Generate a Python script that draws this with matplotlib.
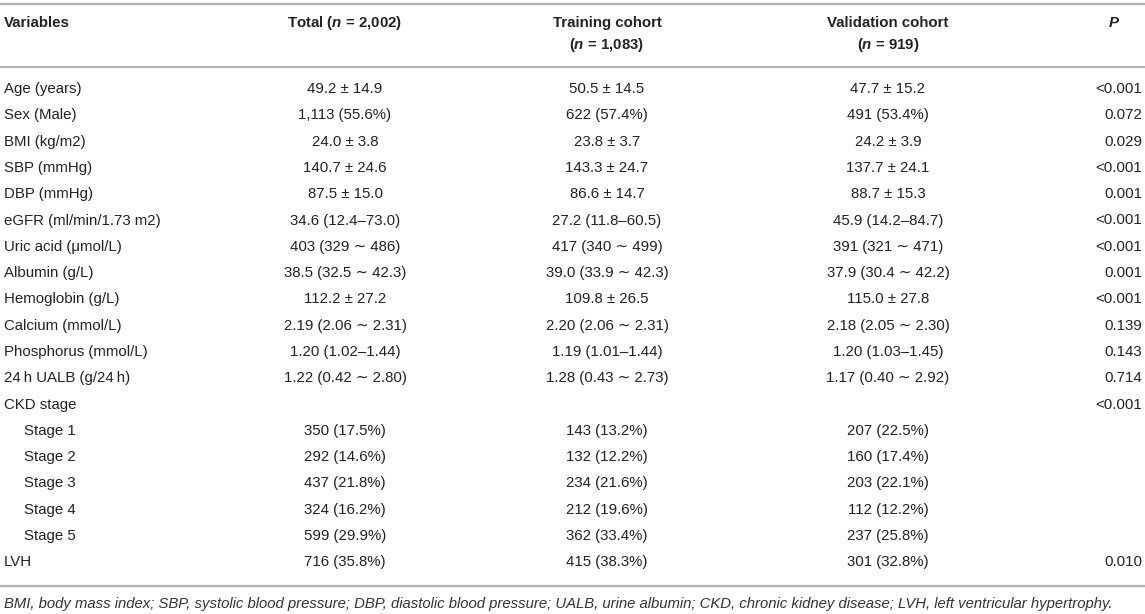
import matplotlib.pyplot as plt

plt.rcParams["font.family"] = ["Liberation Sans", "DejaVu Sans"]
plt.rcParams["mathtext.fontset"] = "custom"
plt.rcParams["mathtext.it"] = "Liberation Sans:italic:bold"
plt.rcParams["mathtext.rm"] = "Liberation Sans:bold"
plt.rcParams["mathtext.bf"] = "Liberation Sans:bold"

# table content
variables = [
    "Age (years)", "Sex (Male)", "BMI (kg/m2)", "SBP (mmHg)", "DBP (mmHg)",
    "eGFR (ml/min/1.73 m2)", "Uric acid (\u03bcmol/L)", "Albumin (g/L)",
    "Hemoglobin (g/L)", "Calcium (mmol/L)", "Phosphorus (mmol/L)",
    "24\u2009h UALB (g/24\u2009h)", "CKD stage", "Stage 1", "Stage 2", "Stage 3",
    "Stage 4", "Stage 5", "LVH",
]
indented = ["Stage 1", "Stage 2", "Stage 3", "Stage 4", "Stage 5"]
total = [
    "49.2 \u00b1 14.9", "1,113 (55.6%)", "24.0 \u00b1 3.8", "140.7 \u00b1 24.6",
    "87.5 \u00b1 15.0", "34.6 (12.4\u201373.0)", "403 (329 \u223c 486)",
    "38.5 (32.5 \u223c 42.3)", "112.2 \u00b1 27.2", "2.19 (2.06 \u223c 2.31)",
    "1.20 (1.02\u20131.44)", "1.22 (0.42 \u223c 2.80)", "",
    "350 (17.5%)", "292 (14.6%)", "437 (21.8%)", "324 (16.2%)", "599 (29.9%)",
    "716 (35.8%)",
]
training = [
    "50.5 \u00b1 14.5", "622 (57.4%)", "23.8 \u00b1 3.7", "143.3 \u00b1 24.7",
    "86.6 \u00b1 14.7", "27.2 (11.8\u201360.5)", "417 (340 \u223c 499)",
    "39.0 (33.9 \u223c 42.3)", "109.8 \u00b1 26.5", "2.20 (2.06 \u223c 2.31)",
    "1.19 (1.01\u20131.44)", "1.28 (0.43 \u223c 2.73)", "",
    "143 (13.2%)", "132 (12.2%)", "234 (21.6%)", "212 (19.6%)", "362 (33.4%)",
    "415 (38.3%)",
]
validation = [
    "47.7 \u00b1 15.2", "491 (53.4%)", "24.2 \u00b1 3.9", "137.7 \u00b1 24.1",
    "88.7 \u00b1 15.3", "45.9 (14.2\u201384.7)", "391 (321 \u223c 471)",
    "37.9 (30.4 \u223c 42.2)", "115.0 \u00b1 27.8", "2.18 (2.05 \u223c 2.30)",
    "1.20 (1.03\u20131.45)", "1.17 (0.40 \u223c 2.92)", "",
    "207 (22.5%)", "160 (17.4%)", "203 (22.1%)", "112 (12.2%)", "237 (25.8%)",
    "301 (32.8%)",
]
p_values = [
    "<0.001", "0.072", "0.029", "<0.001", "0.001", "<0.001", "<0.001", "0.001",
    "<0.001", "0.139", "0.143", "0.714", "<0.001", "", "", "", "", "", "0.010",
]
footnote = ("BMI, body mass index; SBP, systolic blood pressure; DBP, diastolic blood "
            "pressure; UALB, urine albumin; CKD, chronic kidney disease; LVH, left "
            "ventricular hypertrophy.")

W, H = 1145, 614
fig = plt.figure(figsize=(W / 100, H / 100), dpi=100)
ax = fig.add_axes([0, 0, 1, 1])
ax.set_xlim(0, W)
ax.set_ylim(H, 0)
ax.axis("off")

txt_color = "#222222"
line_color = "#b3b3b3"
fs = 10.8

# column layout
x_var = 4
x_total = 345
x_train = 607
x_valid = 888
x_p = 1142
x_p_head = 1114

# rules
for y in (4, 67, 586):
    ax.plot([0, W], [y, y], color=line_color, lw=1.6, solid_capstyle="butt")

# header
hk = dict(fontsize=fs, fontweight="bold", color=txt_color, va="center")
ax.text(x_var, 23, "Variables", ha="left", **hk)
ax.text(x_total, 23, r"Total ($n$ = 2,002)", ha="center", **hk)
ax.text(x_train, 23, "Training cohort", ha="center", **hk)
ax.text(x_train, 45, r"($n$ = 1,083)", ha="center", **hk)
ax.text(x_valid, 23, "Validation cohort", ha="center", **hk)
ax.text(x_valid, 45, r"($n$ = 919)", ha="center", **hk)
ax.text(x_p_head, 23, "P", ha="center", fontsize=fs, fontweight="bold",
        fontstyle="italic", color=txt_color, va="center")

# body
y0, dy = 89, 26.3
bk = dict(fontsize=fs, color=txt_color, va="center")
for i, var in enumerate(variables):
    y = y0 + i * dy
    xv = x_var + 20 if var in indented else x_var
    ax.text(xv, y, var, ha="left", **bk)
    ax.text(x_total, y, total[i], ha="center", **bk)
    ax.text(x_train, y, training[i], ha="center", **bk)
    ax.text(x_valid, y, validation[i], ha="center", **bk)
    ax.text(x_p, y, p_values[i], ha="right", **bk)

ax.text(x_var, 604, footnote, ha="left", va="center", fontsize=10.7,
        fontstyle="italic", color="#333333")

fig.savefig("out.png", dpi=100)
